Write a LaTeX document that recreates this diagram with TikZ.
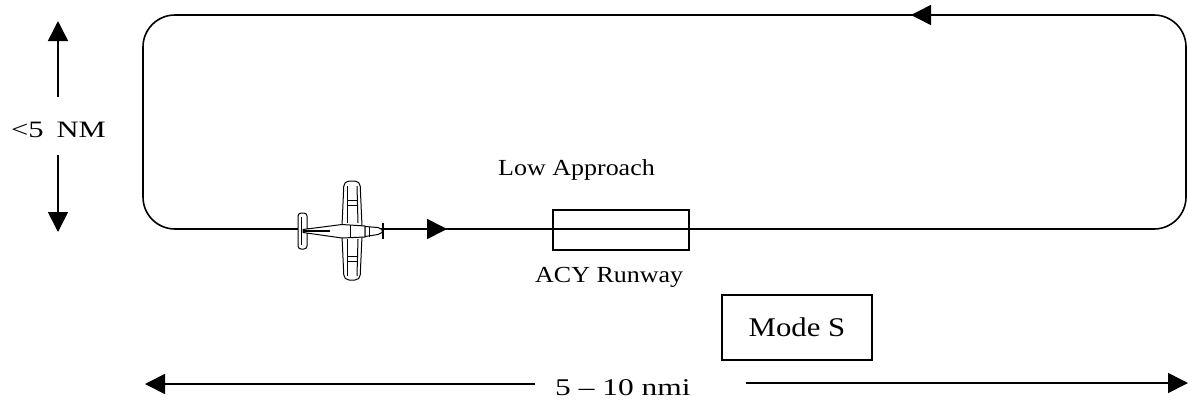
\documentclass[tikz,border=0pt]{standalone}
\usepackage{graphicx}
\usepackage{fontspec}
\setmainfont{Liberation Serif}
\usetikzlibrary{arrows.meta}
\newcommand{\wtxt}[2]{\scalebox{#1}[1]{#2}}
\begin{document}
\begin{tikzpicture}[x=1pt,y=-1pt,
  line/.style={line width=1.6pt},
  tri/.style={-{Triangle[length=20pt,width=20pt]}},
  lbl/.style={inner sep=0pt, anchor=base west},
  box/.style={draw, line width=1.6pt, inner sep=0pt},
  thin/.style={line width=1pt}
]
\useasboundingbox (0,0) rectangle (1188,408);

% circuit loop
\draw[line, rounded corners=32pt] (143,15) rectangle (1186,229);
\coordinate (ta) at (911,15);
\coordinate (tb) at (940,15);
\draw[line, tri] (tb) -- (ta);
\coordinate (ba) at (447,229);
\coordinate (bb) at (420,229);
\draw[line, tri] (bb) -- (ba);

% runway
\node[box, minimum width=136pt, minimum height=40pt] (rwy) at (621,230) {};
\node[lbl, font=\fontsize{23}{23}\selectfont] (low) at (498,175) {\wtxt{1.13}{Low Approach}};
\node[lbl, font=\fontsize{23}{23}\selectfont] (acy) at (535,282) {\wtxt{1.13}{ACY Runway}};

% Mode S
\node[box, minimum width=150pt, minimum height=65pt, font=\fontsize{27}{27}\selectfont] (modes) at (797,327.5) {\wtxt{1.14}{Mode S}};

% distance arrow
\node[lbl, font=\fontsize{24}{24}\selectfont] (dist) at (555,395) {\wtxt{1.31}{5 -- 10 nmi}};
\coordinate (dl) at (145,384);
\coordinate (dr) at (1188,383);
\coordinate (dlx) at ([xshift=-20pt]dist.west);
\coordinate (drx) at ([xshift=55pt]dist.east);
\draw[line, tri] (dlx |- dl) -- (dl);
\draw[line, tri] (drx |- dr) -- (dr);

% vertical arrow
\node[lbl, font=\fontsize{23.5}{23.5}\selectfont] (nm) at (11,137.5) {\wtxt{1.3}{<5\hspace{10pt}NM}};
\coordinate (vt) at (58,21);
\coordinate (vb) at (58,232);
\coordinate (v1) at (58,97);
\coordinate (v2) at (58,155);
\draw[line, tri] (v1) -- (vt);
\draw[line, tri] (v2) -- (vb);

% airplane
\begin{scope}[thin]
  \draw[fill=white, rounded corners=3pt] (298,213) rectangle (307,249);
  \draw (301,217) -- (301,245);
  \draw[fill=white, rounded corners=5pt] (344,181) -- (360,181) -- (362,226) -- (362,236) -- (360,280) -- (344,280) -- (342,236) -- (342,226) -- cycle;
  \draw (347,186) -- (347,223);
  \draw (357,186) -- (358,223);
  \draw (347,239) -- (347,276);
  \draw (358,239) -- (357,276);
  \draw (347,200) -- (357,200);
  \draw (347,205) -- (357,205);
  \draw (347,256) -- (357,256);
  \draw (347,261) -- (357,261);
  \draw[fill=white] (303,229.5) -- (342,224.5) -- (365,226) -- (365,237) -- (342,238) -- (303,232.5) -- cycle;
  \draw (350,224.5) -- (350,238);
  \draw[fill=white] (365,226.5) -- (378,227.5) -- (382,229.5) -- (382,232.5) -- (378,234.5) -- (365,236.5) -- cycle;
  \draw (369,226.5) -- (369,236.5);
  \draw[line width=1.4pt] (383,223) -- (383,239);
  \draw[line width=1.4pt] (303,231) -- (330,231);
\end{scope}
\end{tikzpicture}
\end{document}
